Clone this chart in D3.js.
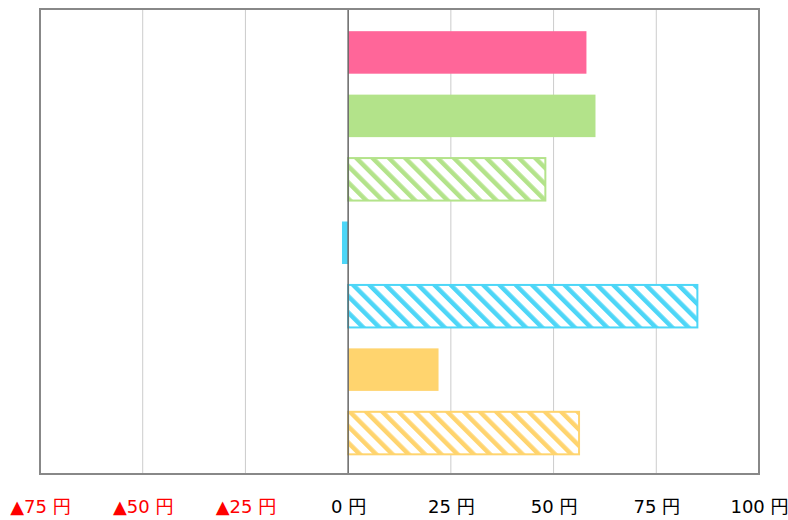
<!DOCTYPE html>
<html>
<head>
<meta charset="utf-8">
<script src="https://cdn.jsdelivr.net/npm/d3@7"></script>
<style>
  html, body { margin: 0; padding: 0; background: #fff; }
  svg { display: block; }
</style>
</head>
<body>
<svg id="chart" width="788" height="520"></svg>
<script>
// Bar data, top to bottom
const categories = ["a", "b", "c", "d", "e", "f", "g"];
const values = [58, 60.2, 48, -1.5, 85, 22, 56.2];
const colors = ["#ff6699", "#b3e38a", "#b3e38a", "#4dd6f7", "#4dd6f7", "#ffd46e", "#ffd46e"];
const hatched = [false, false, true, false, true, false, true];
const tickValues = [-75, -50, -25, 0, 25, 50, 75, 100];

const svg = d3.select("#chart");
const plotLeft = 40, plotRight = 759, plotTop = 9, plotBottom = 474;

const x = d3.scaleLinear().domain([-75, 100]).range([plotLeft, plotRight]);
const y = d3.scaleBand().domain(categories).range([plotTop, plotBottom])
  .paddingInner(0.33).paddingOuter(0.33).align(0.53);

// Diagonal stripe patterns, one per hatched colour
const defs = svg.append("defs");
const hatchColors = Array.from(new Set(colors.filter((c, i) => hatched[i])));
hatchColors.forEach(c => {
  const p = defs.append("pattern")
    .attr("id", "hatch-" + c.slice(1))
    .attr("patternUnits", "userSpaceOnUse")
    .attr("width", 11.5).attr("height", 11.5)
    .attr("patternTransform", "rotate(-45)");
  p.append("rect").attr("width", 11.5).attr("height", 11.5).attr("fill", "#fff");
  p.append("rect").attr("x", 0).attr("y", 0).attr("width", 4.5).attr("height", 11.5).attr("fill", c);
});

// Vertical gridlines
svg.append("g").selectAll("line").data(tickValues.filter(v => v !== 0 && v !== -75 && v !== 100))
  .join("line")
  .attr("x1", d => x(d)).attr("x2", d => x(d))
  .attr("y1", plotTop).attr("y2", plotBottom)
  .attr("stroke", "#cccccc").attr("stroke-width", 1);

// Bars
svg.append("g").selectAll("rect").data(values)
  .join("rect")
  .attr("x", d => Math.min(x(0), x(d)))
  .attr("y", (d, i) => y(categories[i]))
  .attr("width", d => Math.abs(x(d) - x(0)))
  .attr("height", y.bandwidth())
  .attr("fill", (d, i) => hatched[i] ? "url(#hatch-" + colors[i].slice(1) + ")" : colors[i])
  .attr("stroke", (d, i) => hatched[i] ? colors[i] : "none")
  .attr("stroke-width", 2);

// Zero line
svg.append("line")
  .attr("x1", x(0)).attr("x2", x(0)).attr("y1", plotTop).attr("y2", plotBottom)
  .attr("stroke", "#666").attr("stroke-width", 1.5);

// Plot frame
svg.append("rect")
  .attr("x", plotLeft).attr("y", plotTop).attr("width", plotRight - plotLeft).attr("height", plotBottom - plotTop)
  .attr("fill", "none").attr("stroke", "#888").attr("stroke-width", 2);

// Axis labels
const axis = d3.axisBottom(x).tickValues(tickValues).tickSize(0)
  .tickFormat(d => (d < 0 ? "▲" + Math.abs(d) : d) + " 円");
const ag = svg.append("g").attr("transform", `translate(0, ${plotBottom})`).call(axis);
ag.select(".domain").remove();
ag.selectAll("text")
  .attr("y", 26)
  .attr("font-family", "'DejaVu Sans', 'Noto Sans CJK JP', sans-serif")
  .attr("font-size", 18)
  .attr("fill", d => d < 0 ? "#ff0000" : "#000");
</script>
</body>
</html>
